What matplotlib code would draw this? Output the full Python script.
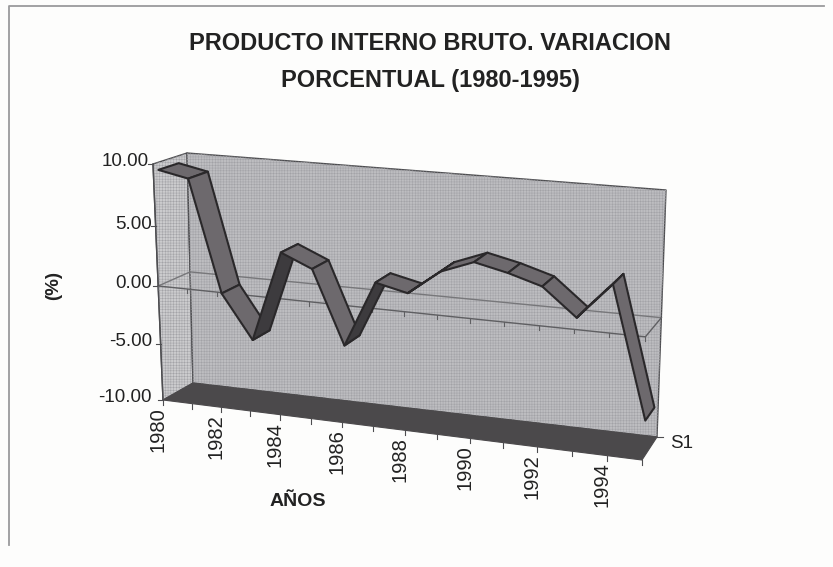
import numpy as np
import matplotlib
matplotlib.use("Agg")
import matplotlib.pyplot as plt
from matplotlib.patches import Polygon

plt.rcParams['font.family'] = ['Liberation Sans', 'DejaVu Sans']
plt.rcParams['hatch.linewidth'] = 0.35

years = list(range(1980, 1996))
values = [9.4, 8.9, -0.3, -4.0, 3.6, 2.5, -3.6, 1.9, 1.3, 3.3, 4.3, 3.7, 2.9, 0.7, 3.6, -7.0]
y_ticks = [10, 5, 0, -5, -10]
x_labels = [1980, 1982, 1984, 1986, 1988, 1990, 1992, 1994]

# pixel corners of the chart box, keys: (right, top, back)
corners = {
    (0, 1, 0): (153, 164), (0, 0, 0): (163, 400),
    (0, 1, 1): (187, 153), (0, 0, 1): (193, 383),
    (1, 1, 0): (649, 205), (1, 0, 0): (642, 460),
    (1, 1, 1): (666, 190), (1, 0, 1): (657, 437),
}


def warp(t, w):
    return t / (t + (1 - t) * w)


def proj(i, v, z):
    t = warp(i / 15, 1.12)
    s = warp((v + 10) / 20, 1.07)
    px = np.zeros(2)
    for a, wa in ((0, 1 - t), (1, t)):
        for b, wb in ((0, 1 - s), (1, s)):
            for c, wc in ((0, 1 - z), (1, z)):
                px += wa * wb * wc * np.array(corners[(a, b, c)])
    return px


def quad(pts, fc, ec='none', lw=0, zo=2):
    ax.add_patch(Polygon(pts, closed=True, facecolor=fc, edgecolor=ec, linewidth=lw, zorder=zo, joinstyle='round'))


def wall(pts, fc):
    quad(pts, fc, '#4d4d50', 1)
    # screen pattern of the scan
    ax.add_patch(Polygon(pts, closed=True, facecolor='none', edgecolor='#a2a2a6', linewidth=0, hatch='++++++', zorder=2))


fig = plt.figure(figsize=(8.33, 5.67), dpi=100, facecolor='#fdfdfc')
ax = fig.add_axes([0, 0, 1, 1])
ax.set_xlim(0, 833)
ax.set_ylim(567, 0)
ax.axis('off')

# scanned frame
ax.plot([9, 9, 824], [545, 6, 6], color='#9a9a9c', lw=1.3)

line = '#4d4d50'
txt = '#222222'
# walls and floor
wall([proj(0, 10, 0), proj(0, 10, 1), proj(0, -10, 1), proj(0, -10, 0)], '#cbcbcd')
wall([proj(0, 10, 1), proj(15, 10, 1), proj(15, -10, 1), proj(0, -10, 1)], '#bdbdc0')
quad([proj(0, -10, 0), proj(0, -10, 1), proj(15, -10, 1), proj(15, -10, 0)], '#4b494b', '#4b494b', 0.8, zo=3)

# zero level on the walls
zero = [proj(0, 0, 0), proj(0, 0, 1), proj(15, 0, 1)]
ax.plot(*np.array(zero).T, color='#77777a', lw=1, zorder=3)
zero = [proj(0, 0, 0), proj(15, 0, 0), proj(15, 0, 1)]
ax.plot(*np.array(zero).T, color='#5f5f62', lw=1, zorder=3)

# front edge of the left wall and y ticks
ax.plot(*np.array([proj(0, 10, 0), proj(0, -10, 0)]).T, color=line, lw=1, zorder=3)
for v in y_ticks:
    p = proj(0, v, 0)
    ax.plot([p[0] - 5, p[0]], [p[1], p[1]], color=line, lw=0.8, zorder=3)
    ax.text(min(p[0] - 4, 152), p[1] - 2, f"{v:.2f}", ha='right', va='center', fontsize=13.5, color=txt)

# x ticks
for i, yr in enumerate(years):
    p = proj(i, -10, 0)
    q = proj(i, 0, 0)
    ax.plot([p[0], p[0]], [p[1], p[1] + 5], color=line, lw=0.8, zorder=3)
    ax.plot([q[0], q[0]], [q[1], q[1] + 4], color='#5f5f62', lw=0.8, zorder=3)
    if yr in x_labels:
        ax.text(p[0] - 5, p[1] + 7, str(yr), rotation=90, ha='center', va='top', fontsize=14.5, color=txt)

# series tick
p = proj(15, -10, 1)
ax.plot([p[0], p[0] + 6], [p[1], p[1]], color=line, lw=0.8)
ax.text(670, 443, 'S1', ha='left', va='center', fontsize=13.5, color=txt)

# ribbon, left to right
z0, z1 = 0.15, 0.75
for i in range(15):
    a, b = values[i], values[i + 1]
    pts = [proj(i, a, z0), proj(i, a, z1), proj(i + 1, b, z1), proj(i + 1, b, z0)]
    rising = b > a + 1.5
    quad(pts, '#3d3b3e' if rising else '#6d696d', '#2a282a', 1.5, zo=4 + i)

ax.text(430, 43, 'PRODUCTO INTERNO BRUTO. VARIACION', ha='center', va='center', fontsize=17, fontweight='bold', color=txt)
ax.text(430, 81, 'PORCENTUAL (1980-1995)', ha='center', va='center', fontsize=17, fontweight='bold', color=txt)
ax.text(54, 285, '(%)', rotation=90, ha='center', va='center', fontsize=13.5, fontweight='bold', color=txt)
ax.text(298, 501, 'AÑOS', ha='center', va='center', fontsize=14, fontweight='bold', color=txt)

fig.savefig('out.png', dpi=100, facecolor=fig.get_facecolor())
